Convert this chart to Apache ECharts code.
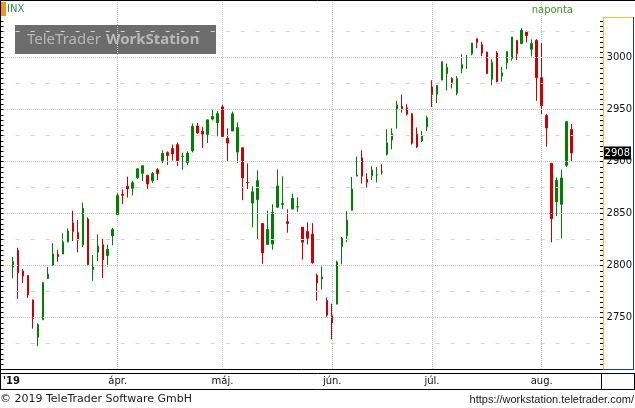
<!DOCTYPE html>
<html>
<head>
<meta charset="utf-8">
<script src="https://cdn.jsdelivr.net/npm/echarts@6/dist/echarts.min.js"></script>
<style>html,body{margin:0;padding:0;background:#fff}#c{width:635px;height:408px}</style>
</head>
<body>
<div id="c"></div>
<script>
const dates = [
'2019-03-01','2019-03-04','2019-03-05','2019-03-06','2019-03-07','2019-03-08','2019-03-11','2019-03-12','2019-03-13','2019-03-14','2019-03-15','2019-03-18','2019-03-19','2019-03-20','2019-03-21','2019-03-22','2019-03-25','2019-03-26','2019-03-27','2019-03-28','2019-03-29',
'2019-04-01','2019-04-02','2019-04-03','2019-04-04','2019-04-05','2019-04-08','2019-04-09','2019-04-10','2019-04-11','2019-04-12','2019-04-15','2019-04-16','2019-04-17','2019-04-18','2019-04-22','2019-04-23','2019-04-24','2019-04-25','2019-04-26','2019-04-29','2019-04-30',
'2019-05-01','2019-05-02','2019-05-03','2019-05-06','2019-05-07','2019-05-08','2019-05-09','2019-05-10','2019-05-13','2019-05-14','2019-05-15','2019-05-16','2019-05-17','2019-05-20','2019-05-21','2019-05-22','2019-05-23','2019-05-24','2019-05-28','2019-05-29','2019-05-30','2019-05-31',
'2019-06-03','2019-06-04','2019-06-05','2019-06-06','2019-06-07','2019-06-10','2019-06-11','2019-06-12','2019-06-13','2019-06-14','2019-06-17','2019-06-18','2019-06-19','2019-06-20','2019-06-21','2019-06-24','2019-06-25','2019-06-26','2019-06-27','2019-06-28',
'2019-07-01','2019-07-02','2019-07-03','2019-07-05','2019-07-08','2019-07-09','2019-07-10','2019-07-11','2019-07-12','2019-07-15','2019-07-16','2019-07-17','2019-07-18','2019-07-19','2019-07-22','2019-07-23','2019-07-24','2019-07-25','2019-07-26','2019-07-29','2019-07-30','2019-07-31',
'2019-08-01','2019-08-02','2019-08-05','2019-08-06','2019-08-07','2019-08-08','2019-08-09'];

const opens = [
2798.22,2814.37,2794.41,2790.27,2766.53,2730.79,2747.61,2787.34,2799.78,2810.38,2810.79,2822.61,2840.76,2831.34,2819.72,2844.52,2796.01,2812.66,2819.72,2809.40,2828.27,
2848.63,2868.24,2876.09,2873.99,2884.16,2888.46,2886.58,2881.37,2891.92,2900.86,2908.32,2912.26,2916.04,2904.81,2898.78,2909.99,2934.00,2928.99,2925.81,2940.58,2937.14,
2952.33,2922.16,2929.21,2908.89,2913.03,2879.61,2859.84,2863.10,2840.19,2820.12,2820.38,2855.80,2858.60,2841.94,2854.02,2856.06,2836.70,2832.41,2830.03,2790.25,2786.94,2766.15,
2751.53,2762.64,2818.09,2828.51,2852.87,2885.83,2903.27,2882.73,2886.24,2886.82,2889.75,2906.71,2920.55,2949.60,2952.71,2951.42,2945.78,2926.07,2919.66,2932.94,
2971.41,2964.66,2978.08,2984.25,2979.77,2965.52,2989.30,2999.62,3003.36,3017.80,3012.13,3005.10,2978.87,3004.26,2981.93,2994.74,2998.77,3016.26,3013.25,3024.47,3007.66,3016.22,
2980.32,2943.90,2898.07,2861.18,2858.65,2896.21,2930.51];

const highs = [
2808.02,2816.88,2796.44,2790.27,2767.25,2744.13,2784.00,2798.32,2821.24,2815.00,2830.73,2835.41,2852.42,2843.54,2860.31,2846.16,2809.79,2829.87,2825.56,2819.71,2836.03,
2869.40,2872.90,2885.25,2881.28,2893.24,2895.95,2886.88,2889.71,2893.42,2910.54,2909.60,2916.06,2918.00,2908.40,2909.51,2936.31,2936.83,2933.10,2939.88,2949.52,2948.22,
2954.13,2931.68,2947.85,2937.32,2913.03,2897.96,2875.97,2891.31,2840.19,2852.54,2858.68,2892.15,2885.48,2853.86,2868.88,2865.47,2836.70,2841.36,2840.51,2792.03,2799.00,2768.98,
2763.07,2804.49,2827.28,2852.10,2884.97,2904.77,2910.61,2888.57,2895.24,2894.45,2897.27,2930.79,2931.74,2958.06,2964.15,2954.92,2946.52,2932.59,2929.30,2943.98,
2977.93,2973.21,2995.84,2994.03,2980.76,2981.90,3002.98,3002.33,3013.92,3017.80,3015.02,3005.26,2998.28,3006.02,2990.71,3005.90,3019.59,3016.31,3027.98,3025.61,3017.19,3017.40,
3013.59,2945.50,2898.07,2884.40,2892.17,2938.72,2935.75];

const lows = [
2787.38,2767.66,2782.97,2768.69,2739.09,2722.27,2747.61,2786.73,2799.78,2803.46,2810.79,2821.99,2823.27,2812.43,2817.38,2800.47,2785.02,2803.99,2787.72,2798.77,2819.23,
2848.63,2858.75,2865.17,2867.14,2882.99,2880.78,2873.33,2879.13,2881.99,2898.37,2896.48,2900.71,2895.45,2891.90,2896.35,2908.53,2926.31,2912.84,2917.56,2939.35,2924.11,
2923.36,2900.50,2929.21,2898.21,2862.60,2873.28,2836.40,2825.39,2801.43,2820.12,2815.08,2855.80,2854.23,2831.29,2854.02,2851.11,2805.49,2820.19,2801.58,2766.06,2776.74,2750.52,
2728.81,2762.64,2800.92,2822.45,2852.87,2885.51,2878.53,2874.68,2881.99,2879.62,2887.30,2905.44,2911.43,2931.50,2946.87,2944.05,2916.01,2912.99,2918.57,2929.05,
2952.22,2955.92,2977.96,2967.97,2970.09,2963.44,2984.62,2988.80,3001.87,3008.77,3001.15,2984.25,2973.09,2975.86,2976.65,2988.56,2996.82,2997.24,3012.59,3014.30,3000.94,2958.08,
2945.23,2914.11,2822.12,2847.42,2825.71,2894.47,2900.15];

const closes = [
2803.69,2792.81,2789.65,2771.45,2748.93,2743.07,2783.30,2791.52,2810.92,2808.48,2822.48,2832.94,2832.57,2824.23,2854.88,2800.71,2798.36,2818.46,2805.37,2815.44,2834.40,
2867.19,2867.24,2873.40,2879.39,2892.74,2895.77,2878.20,2888.21,2888.32,2907.41,2905.58,2907.06,2900.45,2905.03,2907.97,2933.68,2927.25,2926.17,2939.88,2943.03,2945.83,
2923.73,2917.52,2945.64,2932.47,2884.05,2879.42,2870.72,2881.40,2811.87,2834.41,2850.96,2876.32,2859.53,2840.23,2864.36,2856.27,2822.24,2826.06,2802.39,2783.02,2788.86,2752.06,
2744.45,2803.27,2826.15,2843.49,2873.34,2886.73,2885.72,2879.84,2891.64,2886.98,2889.67,2917.75,2926.46,2954.18,2950.46,2945.35,2917.38,2913.78,2924.92,2941.76,
2964.33,2973.01,2995.82,2990.41,2975.95,2979.63,2993.07,2999.91,3013.77,3014.30,3004.04,2984.42,2995.11,2976.61,2985.03,3005.47,3019.56,3003.67,3025.86,3020.97,3013.18,2980.38,
2953.56,2932.05,2844.74,2881.77,2883.98,2938.09,2908.00];

const monthNames = {'04':'ápr.','05':'máj.','06':'jún.','07':'júl.','08':'aug.'};
const yearLabel = "'19";
const yMajor = [2750, 2800, 2850, 2900, 2950, 3000];
const yHalf = [2725, 2775, 2825, 2875, 2925, 2975, 3025];
const lastPrice = 2908;
const symbolName = 'INX';
const periodName = 'naponta';
const footerLeft = '© 2019 TeleTrader Software GmbH';
const footerRight = 'https://workstation.teletrader.com/';

// ---- build ----
const PAD_L = 2, PAD_R = 6;
const cats = [];
for (let i = 0; i < PAD_L; i++) cats.push('p' + i);
dates.forEach(d => cats.push(d));
for (let i = 0; i < PAD_R; i++) cats.push('q' + i);

const labelMap = {0: '{y|' + yearLabel + '}'};
const monthIdx = new Set();
dates.forEach((d, i) => {
  const m = d.slice(5, 7);
  if (i > 0 && m !== dates[i - 1].slice(5, 7)) {
    monthIdx.add(i + PAD_L);
    labelMap[i + PAD_L] = monthNames[m] || m;
  }
});

const Y_MIN = 2700, Y_MAX = 3055.1, Y_STEP = 5, TICK_TOP = 3035;
const majorSet = new Set(yMajor);
const tickVals = [];
for (let v = Y_MIN; v <= TICK_TOP; v += Y_STEP) tickVals.push(v);

const ohlc = dates.map((d, i) => [i + PAD_L, opens[i], closes[i], lows[i], highs[i]]);

const FF = 'DejaVu Sans';
const GREEN = '#008000', RED = '#cc0000';

const markData = [];
yMajor.forEach(v => markData.push({yAxis: v, lineStyle: {color: '#c4c4c4', type: [1, 1], width: 1}, label: {show: false}}));
yHalf.forEach(v => markData.push({yAxis: v, lineStyle: {color: '#d2d2d2', type: [4, 11], dashOffset: 2.3, width: 1}, label: {show: false}}));
markData.push({yAxis: lastPrice, lineStyle: {color: 'rgba(0,0,0,0)', width: 1},
  label: {show: true, position: 'end', formatter: String(lastPrice), color: '#ffffff', backgroundColor: '#000000',
    padding: [2, 1, 1, 1], distance: 2, fontFamily: FF, fontSize: 10}});

const chart = echarts.init(document.getElementById('c'), null, {renderer: 'canvas'});
const line = (x1, y1, x2, y2, c) => ({type: 'line', silent: true, z: 100,
  shape: {x1, y1, x2, y2}, style: {stroke: c, lineWidth: 1}});

// small tick marks along both value axes, placed through the y scale
const tickSeries = (side) => ({
  type: 'custom', yAxisIndex: 0, silent: true, clip: false, z: 5,
  data: tickVals.map(v => [0, v]),
  encode: {x: 0, y: 1},
  renderItem: (params, api) => {
    const p = api.coord([0, api.value(1)]);
    const y = Math.round(p[1]) + 0.5;
    const gx = params.coordSys.x, gw = params.coordSys.width;
    const x1 = side === 'right' ? Math.round(gx + gw) + 1 : 0;
    const x2 = side === 'right' ? x1 - 3 : 3.5;
    return {type: 'line', shape: {x1, y1: y, x2, y2: y}, style: {stroke: '#000', lineWidth: 1}};
  }
});

chart.setOption({
  animation: false,
  backgroundColor: '#ffffff',
  grid: {left: 2.3, right: 32.7, top: 0, bottom: 38.7, containLabel: false},
  xAxis: {
    type: 'category', data: cats, boundaryGap: false,
    axisLine: {show: false}, axisTick: {show: false},
    axisLabel: {
      interval: (i) => labelMap[i] !== undefined,
      formatter: (v, i) => labelMap[i] || '',
      fontFamily: FF, fontSize: 10, color: '#111', margin: 7,
      alignMinLabel: 'left',
      rich: {y: {fontFamily: FF, fontSize: 10, fontWeight: 'bold', color: '#111'}}
    },
    splitLine: {show: true, interval: (i) => monthIdx.has(i), lineStyle: {color: '#c8c8c8', type: [1, 1]}}
  },
  yAxis: [
    {type: 'value', position: 'right', min: Y_MIN, max: Y_MAX, interval: Y_STEP,
      axisLine: {show: false}, axisTick: {show: false},
      axisLabel: {interval: 0, showMinLabel: true, showMaxLabel: false, hideOverlap: false,
        formatter: (v) => majorSet.has(Math.round(v)) && Math.abs(v - Math.round(v)) < 1e-6 ? String(Math.round(v)) : '',
        fontFamily: FF, fontSize: 10, color: '#111', margin: 5},
      splitLine: {show: false}}
  ],
  series: [{
    type: 'candlestick', yAxisIndex: 0, data: ohlc,
    encode: {x: 0, y: [1, 2, 3, 4]},
    barWidth: 2,
    itemStyle: {color: GREEN, color0: RED, borderColor: GREEN, borderColor0: RED, borderWidth: 1},
    markLine: {silent: true, symbol: ['none', 'none'], animation: false, data: markData}
  }, tickSeries('right'), tickSeries('left')],
  graphic: [
    {type: 'rect', z: -10, silent: true, shape: {x: 15, y: 25, width: 201, height: 29}, style: {fill: '#6c6c6c'}},
    {type: 'text', z: -9, silent: true, style: {text: 'TeleTrader', x: 27, y: 40, fill: '#b8b8b8', font: '15px "Noto Sans"', textVerticalAlign: 'middle'}},
    {type: 'text', z: -9, silent: true, style: {text: 'WorkStation', x: 106, y: 40, fill: '#b8b8b8', font: 'bold 15px "Noto Sans"', textVerticalAlign: 'middle'}},
    {type: 'rect', z: 100, silent: true, shape: {x: 0, y: 2, width: 6, height: 14}, style: {fill: '#f7941d'}},
    {type: 'text', z: 100, silent: true, style: {text: symbolName, x: 7, y: 9.5, fill: '#2a9040', font: '10px "DejaVu Sans"', textVerticalAlign: 'middle'}},
    {type: 'text', z: 100, silent: true, style: {text: periodName, x: 573, y: 10, fill: '#3a9a1a', font: '10px "DejaVu Sans"', textAlign: 'right', textVerticalAlign: 'middle'}},
    line(0, 0.5, 635, 0.5, '#000'),
    line(0.5, 0, 0.5, 390, '#000'),
    line(0, 369.5, 603, 369.5, '#000'),
    line(603.5, 17, 603.5, 370, '#f0c030'),
    line(603, 17.5, 634, 17.5, '#f0c030'),
    line(633.5, 17, 633.5, 370, '#1c3c9c'),
    line(603, 369.5, 634, 369.5, '#1c3c9c'),
    line(0, 373.5, 635, 373.5, '#000'),
    line(0, 389.5, 635, 389.5, '#000'),
    line(601.5, 373, 601.5, 390, '#000'),
    line(634.5, 373, 634.5, 390, '#000'),
    {type: 'text', z: 100, silent: true, style: {text: footerLeft, x: 0, y: 399.5, fill: '#1a1a1a', font: '11px "DejaVu Sans"', textVerticalAlign: 'middle'}},
    {type: 'text', z: 100, silent: true, style: {text: footerRight, x: 634, y: 399.5, fill: '#1a1a1a', font: '11px "Liberation Sans"', textAlign: 'right', textVerticalAlign: 'middle'}}
  ]
});
</script>
</body>
</html>
